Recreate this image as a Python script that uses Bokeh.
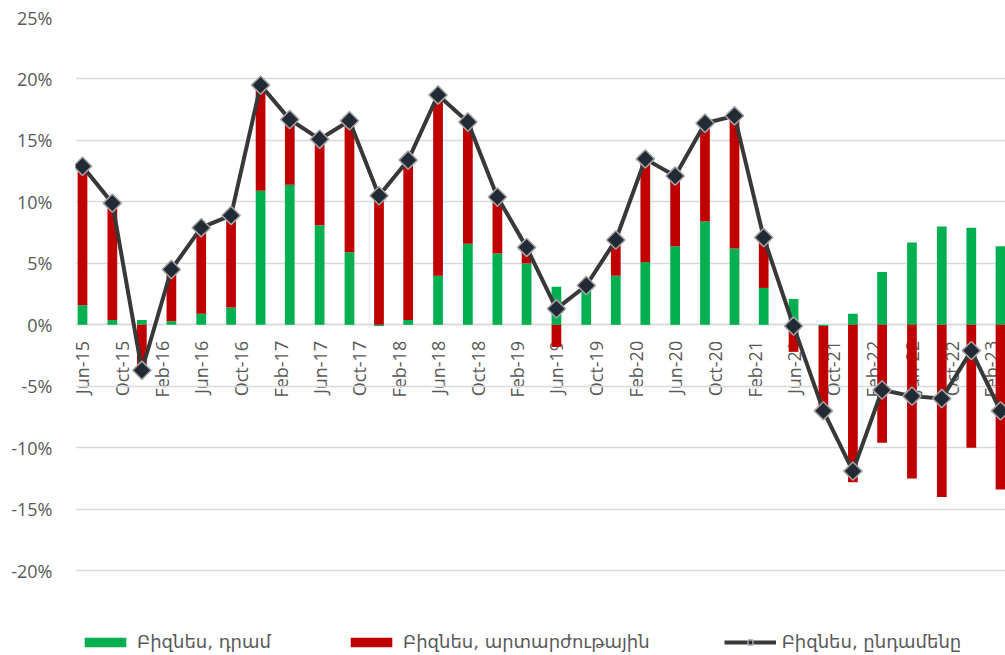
import math
import numpy as np
import pandas as pd
from bokeh.plotting import figure
from bokeh.models import (ColumnDataSource, Range1d, FixedTicker, NumeralTickFormatter,
                          DatetimeTickFormatter, Legend, LegendItem)
from bokeh.embed import file_html
from bokeh.resources import INLINE

# ---- data (percent) ----
dates = pd.date_range("2015-06-01", periods=32, freq="3MS")
label_dates = pd.date_range("2015-06-01", "2023-02-01", freq="4MS")

dram = [1.6, 0.4, 0.4, 0.3, 0.9, 1.4, 10.9, 11.4, 8.1, 5.9, -0.1, 0.4, 4.0, 6.6, 5.8, 5.0,
        3.1, 3.1, 4.0, 5.1, 6.4, 8.4, 6.2, 3.0, 2.1, -0.1, 0.9, 4.3, 6.7, 8.0, 7.9, 6.4]
fx = [11.3, 9.5, -4.1, 4.2, 7.0, 7.5, 8.6, 5.3, 7.0, 10.7, 10.6, 13.0, 14.7, 9.9, 4.6, 1.3,
      -1.8, 0.1, 2.9, 8.4, 5.7, 8.0, 10.8, 4.1, -2.2, -6.9, -12.8, -9.6, -12.5, -14.0, -10.0, -13.4]
total = [12.9, 9.9, -3.7, 4.5, 7.9, 8.9, 19.5, 16.7, 15.1, 16.6, 10.5, 13.4, 18.7, 16.5, 10.4, 6.3,
         1.3, 3.2, 6.9, 13.5, 12.1, 16.4, 17.0, 7.1, -0.1, -7.0, -11.9, -5.3, -5.8, -6.0, -2.1, -7.0]
y_ticks = [-0.20, -0.15, -0.10, -0.05, 0.0, 0.05, 0.10, 0.15, 0.20, 0.25]

names = ["Բիզնես, դրամ", "Բիզնես, արտարժութային", "Բիզնես, ընդամենը"]

g = np.array(dram) / 100.0
r = np.array(fx) / 100.0
t = np.array(total) / 100.0
same_sign = np.sign(g) == np.sign(r)
r_bottom = np.where(same_sign, g, 0.0)
r_top = r_bottom + r

src = ColumnDataSource(dict(x=dates, g0=np.zeros_like(g), g1=g, r0=r_bottom, r1=r_top, t=t))

DAY = pd.Timedelta(days=1)
p = figure(width=1005, height=655, x_axis_type="datetime", output_backend="svg",
           toolbar_location=None,
           x_range=Range1d(dates[0] - 21.6 * DAY, dates[-1] + 15.4 * DAY),
           y_range=Range1d(-0.269, 0.25),
           min_border_left=75, min_border_right=0, min_border_top=17, min_border_bottom=0)
p.outline_line_color = None
p.background_fill_color = "white"

bw = 30 * 24 * 3600 * 1000
gr = p.vbar(x="x", width=bw, bottom="g0", top="g1", source=src, fill_color="#00B050", line_color=None)
rr = p.vbar(x="x", width=bw, bottom="r0", top="r1", source=src, fill_color="#C00000", line_color=None)
ln = p.line(x="x", y="t", source=src, line_color="#383838", line_width=4)
sc = p.scatter(x="x", y="t", source=src, marker="square", angle=math.pi / 4, size=13,
               fill_color="#222a35", line_color="#a6a6a6", line_width=1.5)

# axes
p.yaxis.ticker = FixedTicker(ticks=y_ticks)
p.yaxis.formatter = NumeralTickFormatter(format="0%")
p.yaxis.axis_line_color = None
p.yaxis.major_tick_line_color = None
p.yaxis.minor_tick_line_color = None
p.yaxis.major_label_standoff = 17
p.yaxis.major_label_text_font = "Open Sans"
p.yaxis.major_label_text_font_size = "18px"
p.yaxis.major_label_text_color = "#595959"

p.ygrid.ticker = FixedTicker(ticks=y_ticks)
p.ygrid.grid_line_color = "#d9d9d9"
p.ygrid.grid_line_width = 1.5
p.xgrid.grid_line_color = None

xt = [d.value / 1e6 for d in label_dates]
p.xaxis.ticker = FixedTicker(ticks=xt)
fmt = "%b-%y"
p.xaxis.formatter = DatetimeTickFormatter(milliseconds=fmt, seconds=fmt, minsec=fmt, minutes=fmt,
                                          hourmin=fmt, hours=fmt, days=fmt, months=fmt, years=fmt)
p.xaxis.fixed_location = 0
p.xaxis.axis_line_color = "#d9d9d9"
p.xaxis.axis_line_width = 1.5
p.xaxis.major_tick_line_color = None
p.xaxis.minor_tick_line_color = None
p.xaxis.major_label_orientation = math.pi / 2
p.xaxis.major_label_standoff = 10
p.xaxis.major_label_text_font = "Open Sans"
p.xaxis.major_label_text_font_size = "18px"
p.xaxis.major_label_text_color = "#595959"
p.xaxis.level = "underlay"

legend = Legend(items=[LegendItem(label=names[0], renderers=[gr]),
                       LegendItem(label=names[1], renderers=[rr]),
                       LegendItem(label=names[2], renderers=[ln, sc])],
                orientation="horizontal", location=(4, 3), spacing=74,
                glyph_width=52, glyph_height=12, label_standoff=6,
                label_text_font="DejaVu Sans", label_text_font_size="18px",
                label_text_color="#595959", border_line_color=None,
                background_fill_alpha=0, padding=0, margin=0)
p.add_layout(legend)

open("out.html", "w").write(file_html(p, INLINE))
